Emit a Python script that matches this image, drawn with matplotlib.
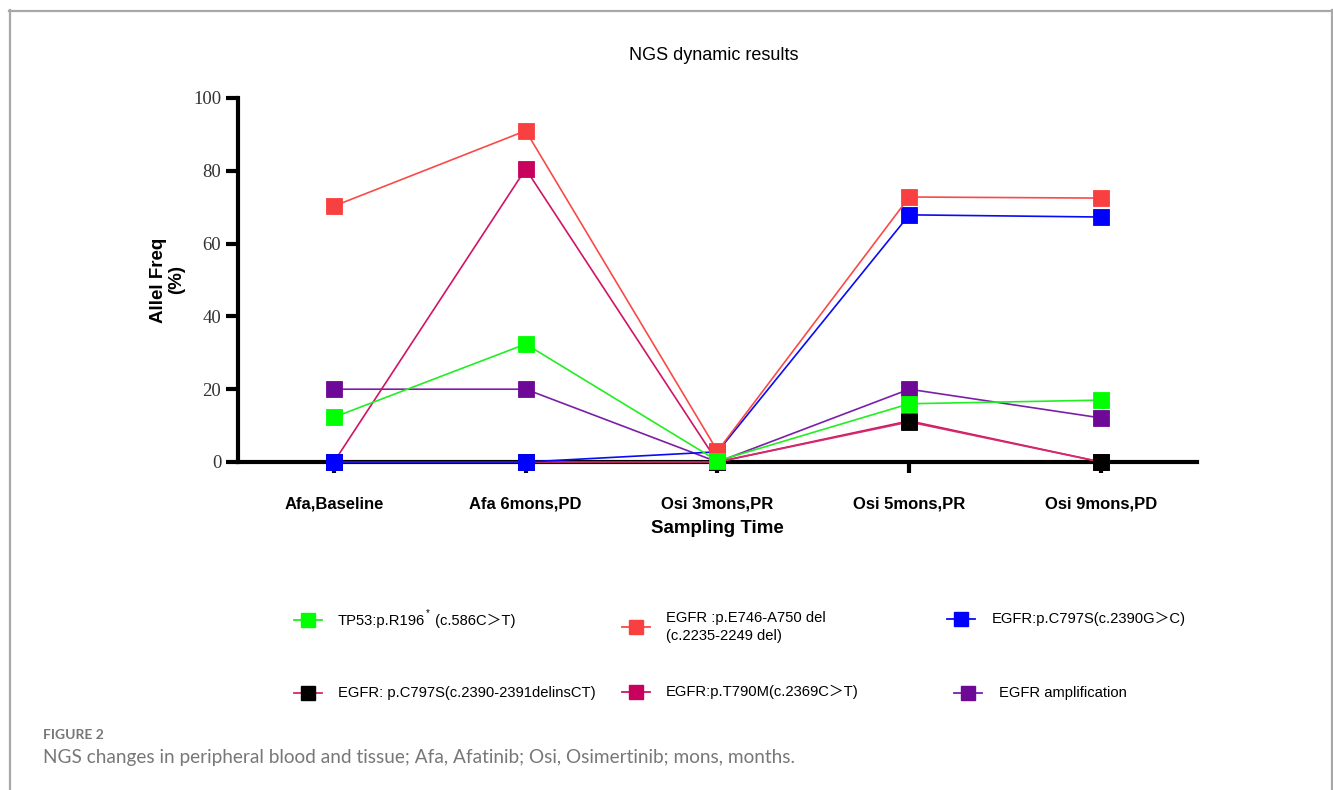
import matplotlib
matplotlib.use("Agg")
import matplotlib.pyplot as plt
from matplotlib.lines import Line2D

# ---- data -------------------------------------------------------------
timepoints = ["Afa,Baseline", "Afa 6mons,PD", "Osi 3mons,PR", "Osi 5mons,PR", "Osi 9mons,PD"]

tp53_r196 = [12.3, 32.4, 0.3, 16.0, 17.0]
egfr_del = [70.3, 91.0, 3.0, 72.8, 72.5]
egfr_c797s_g = [0.0, 0.0, 2.8, 67.9, 67.3]
egfr_c797s_delins = [0.0, 0.0, 0.0, 11.0, 0.0]
egfr_t790m = [0.0, 80.5, 0.0, 11.3, 0.0]
egfr_amp = [20.0, 20.0, 0.0, 20.0, 12.1]

y_ticks = [0, 20, 40, 60, 80, 100]

# ---- figure -----------------------------------------------------------
W, H = 1333, 790
fig = plt.figure(figsize=(W / 100, H / 100), dpi=100)


def fx(px):
    return px / W


def fy(py):
    return 1 - py / H


ax = fig.add_axes([fx(238), fy(462), fx(1197) - fx(238), fy(98) - fy(462)])

# series: (values, line colour, marker colour)
series = [
    (egfr_amp, "#7A1FA8", "#6E0896"),
    (egfr_t790m, "#D01464", "#C8005E"),
    (egfr_c797s_delins, "#D42A6C", "#000000"),
    (egfr_c797s_g, "#0A0AF5", "#0000FF"),
    (egfr_del, "#FA4A48", "#F94040"),
    (tp53_r196, "#22EE22", "#00FF00"),
]

x = list(range(len(timepoints)))
for vals, lc, mc in series:
    ax.plot(x, vals, color=lc, lw=1.2, marker="s", markersize=11,
            markerfacecolor=mc, markeredgecolor=mc, markeredgewidth=0.6,
            clip_on=False, zorder=3)

ax.set_xlim(-0.5, 4.5)
ax.set_ylim(0, 100)
ax.set_yticks(y_ticks)
ax.set_xticks(x)
ax.set_xticklabels(timepoints, fontfamily="Liberation Sans", fontweight="bold",
                   fontsize=12)
ax.set_yticklabels([str(v) for v in y_ticks], fontfamily="Liberation Serif",
                   fontsize=13.5, color="#333333")

for side in ("top", "right"):
    ax.spines[side].set_visible(False)
for side in ("left", "bottom"):
    ax.spines[side].set_linewidth(3)
    ax.spines[side].set_zorder(2)
ax.tick_params(axis="y", direction="out", length=9, width=3, pad=3)
ax.tick_params(axis="x", direction="out", length=8, width=3, pad=17)

ax.set_xlabel("Sampling Time", fontfamily="Liberation Sans", fontweight="bold",
              fontsize=13.5, labelpad=6)
ax.set_ylabel("Allel Freq\n(%)", fontfamily="Liberation Sans", fontweight="bold",
              fontsize=13.5, labelpad=6, linespacing=1.1)

fig.text(fx(714), fy(55), "NGS dynamic results", ha="center", va="center",
         fontfamily="Liberation Sans", fontsize=13)

# ---- legend drawn in figure space ------------------------------------
fam = ["Liberation Sans", "Noto Sans CJK SC"]
fs_leg = 10.6
legend_items = [
    # (series index, handle centre x, y, text x, text lines)
    (5, 308, 620, 338, None),
    (4, 636, 627, 666, ["EGFR :p.E746-A750 del", "(c.2235-2249 del)"]),
    (3, 961, 619, 992, ["EGFR:p.C797S(c.2390G＞C)"]),
    (2, 308, 693, 338, ["EGFR: p.C797S(c.2390-2391delinsCT)"]),
    (1, 636, 692, 666, ["EGFR:p.T790M(c.2369C＞T)"]),
    (0, 968, 693, 999, ["EGFR amplification"]),
]

for idx, hx, hy, tx, lines in legend_items:
    _, lc, mc = series[idx]
    fig.add_artist(Line2D([fx(hx - 14), fx(hx + 14)], [fy(hy), fy(hy)],
                          transform=fig.transFigure, color=lc, lw=1.3))
    fig.add_artist(Line2D([fx(hx)], [fy(hy)], transform=fig.transFigure,
                          marker="s", markersize=10.5, markerfacecolor=mc,
                          markeredgecolor=mc, lw=0))
    if lines is not None:
        if len(lines) == 1:
            fig.text(fx(tx), fy(hy), lines[0], ha="left", va="center",
                     family=fam, fontsize=fs_leg)
        else:
            fig.text(fx(tx), fy(618), lines[0], ha="left", va="center",
                     family=fam, fontsize=fs_leg)
            fig.text(fx(tx), fy(636), lines[1], ha="left", va="center",
                     family=fam, fontsize=fs_leg)

# TP53 label with superscript asterisk, built from pieces
renderer = fig.canvas.get_renderer()
t1 = fig.text(fx(338), fy(621), "TP53:p.R196", ha="left", va="center",
              family=fam, fontsize=fs_leg)
bb = t1.get_window_extent(renderer)
t2 = fig.text(bb.x1 / W + fx(1), fy(613), "*", ha="left", va="center",
              family=fam, fontsize=7)
bb2 = t2.get_window_extent(renderer)
fig.text(bb2.x1 / W + fx(1), fy(621), " (c.586C＞T)", ha="left", va="center",
         family=fam, fontsize=fs_leg)

# ---- caption and panel frame -------------------------------------------
fig.text(fx(43), fy(735), "FIGURE 2", ha="left", va="center",
         fontfamily="Lato", fontweight="bold", fontsize=10, color="#777777")
fig.text(fx(43), fy(757),
         "NGS changes in peripheral blood and tissue; Afa, Afatinib; Osi, Osimertinib; mons, months.",
         ha="left", va="center", fontfamily="Lato", fontsize=13.7, color="#777777")

frame_col = "#A8A8A8"
fig.add_artist(Line2D([fx(9), fx(1331)], [fy(10.5), fy(10.5)],
                      transform=fig.transFigure, color=frame_col, lw=1.6))
fig.add_artist(Line2D([fx(9.5), fx(9.5)], [fy(10), 0],
                      transform=fig.transFigure, color=frame_col, lw=1.6))
fig.add_artist(Line2D([fx(1331.5), fx(1331.5)], [fy(10), 0],
                      transform=fig.transFigure, color=frame_col, lw=1.6))

fig.savefig("out.png", dpi=100)
